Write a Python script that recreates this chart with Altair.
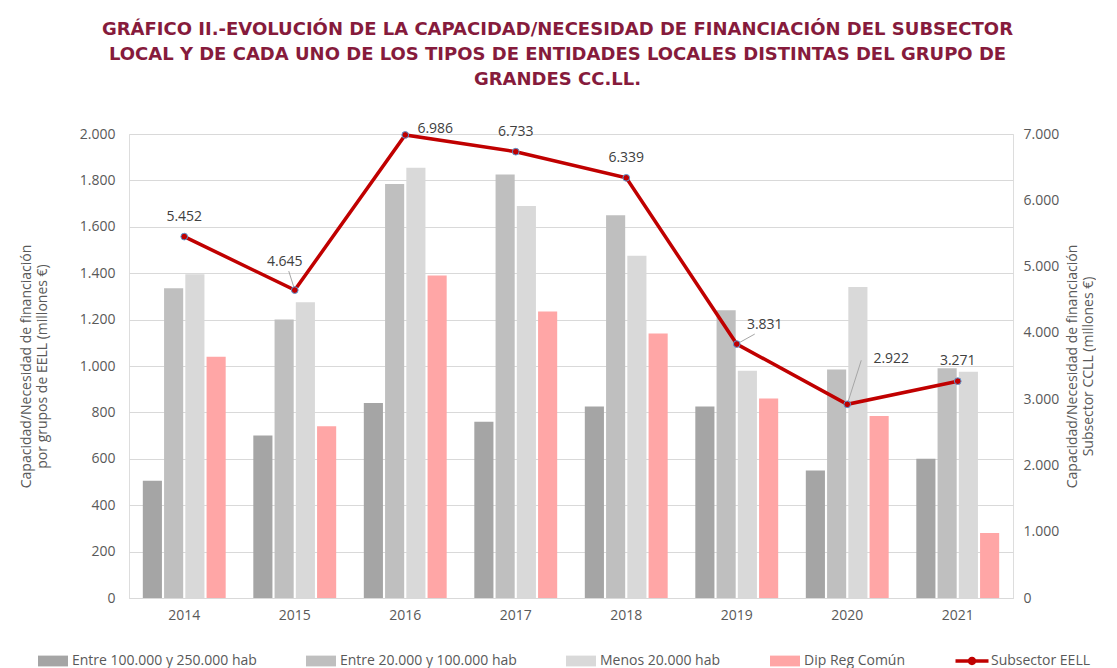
import altair as alt
import pandas as pd

years = ["2014", "2015", "2016", "2017", "2018", "2019", "2020", "2021"]
bar_series = ["Entre 100.000 y 250.000 hab", "Entre 20.000 y 100.000 hab",
              "Menos 20.000 hab", "Dip Reg Común"]
v_100_250 = [505, 700, 840, 760, 825, 825, 550, 600]
v_20_100 = [1335, 1200, 1785, 1825, 1650, 1240, 985, 990]
v_menos20 = [1395, 1275, 1855, 1690, 1475, 980, 1340, 975]
v_dip = [1040, 740, 1390, 1235, 1140, 860, 785, 280]
line_name = "Subsector EELL"
v_subsector = [5452, 4645, 6986, 6733, 6339, 3831, 2922, 3271]

bar_colors = ["#A5A5A5", "#BFBFBF", "#D9D9D9", "#FFA6A6"]
line_color = "#C00000"

rows = []
for s, vals in zip(bar_series, [v_100_250, v_20_100, v_menos20, v_dip]):
    for y, v in zip(years, vals):
        rows.append({"year": y, "serie": s, "value": v})
bars_df = pd.DataFrame(rows)
line_df = pd.DataFrame({"year": years, "serie": line_name, "value": v_subsector})

FONT = "Open Sans"
GRAY = "#595959"
all_series = bar_series + [line_name]
rect_path = "M-1,-0.36H1V0.36H-1Z"
line_path = "M-1.1,-0.12H1.1V0.12H-1.1Z M0.28,0A0.28,0.28 0 1,1 -0.28,0A0.28,0.28 0 1,1 0.28,0Z"

legend = alt.Legend(
    title=None, orient="none", direction="horizontal", legendX=-91, legendY=512,
    labelFont=FONT, labelFontSize=14, labelColor=GRAY, labelLimit=400,
    symbolType=rect_path, symbolSize=900, symbolStrokeWidth=0, symbolOpacity=1,
    columnPadding=49,
)
color = alt.Color("serie:N",
                  scale=alt.Scale(domain=all_series, range=bar_colors + [line_color]),
                  legend=legend)
shape = alt.Shape("serie:N",
                  scale=alt.Scale(domain=all_series, range=[rect_path] * 4 + [line_path]),
                  legend=legend)

xenc = alt.X("year:N", scale=alt.Scale(paddingInner=0.25, paddingOuter=0.125),
             axis=alt.Axis(title=None, labelAngle=0, labelFont=FONT, labelFontSize=14,
                           labelColor=GRAY, ticks=False, domainColor="#D9D9D9",
                           labelPadding=10))

bars = alt.Chart(bars_df).mark_bar().encode(
    x=xenc,
    xOffset=alt.XOffset("serie:N", sort=bar_series, scale=alt.Scale(paddingInner=0.1)),
    y=alt.Y("value:Q", scale=alt.Scale(domain=[0, 2000], nice=False),
            axis=alt.Axis(values=list(range(0, 2001, 200)), grid=True, gridColor="#D9D9D9",
                          domain=False, ticks=False, labelFont=FONT, labelFontSize=14,
                          labelColor=GRAY, labelPadding=14,
                          labelExpr="replace(format(datum.value, ','), ',', '.')",
                          title=["Capacidad/Necesidad de financiación",
                                 "por grupos de EELL (millones €)"],
                          titleFont=FONT, titleFontSize=14, titleFontWeight="normal",
                          titleColor=GRAY, titlePadding=30)),
    color=color,
)

yscale = alt.Scale(domain=[0, 7000], nice=False)
yaxis_r = alt.Axis(orient="right", values=list(range(0, 7001, 1000)), grid=False,
                   domain=False, ticks=False, labelFont=FONT, labelFontSize=14,
                   labelColor=GRAY, labelPadding=10,
                   labelExpr="replace(format(datum.value, ','), ',', '.')",
                   title=["Capacidad/Necesidad de financiación",
                          "Subsector CCLL (millones €)"],
                   titleFont=FONT, titleFontSize=14, titleFontWeight="normal",
                   titleColor=GRAY, titleAngle=-90, titlePadding=5)
yn = alt.Y("value:Q", axis=yaxis_r, scale=yscale)

lbase = alt.Chart(line_df).transform_calculate(
    lab="replace(format(datum.value, ','), ',', '.')")

line = lbase.mark_line(strokeWidth=3.5).encode(x=xenc, y=yn, color=color)
legend_layer = lbase.transform_filter("false").mark_point(filled=True, opacity=1).encode(
    x=xenc, y=yn, color=color, shape=shape)
pts = lbase.mark_point(filled=True, fill=line_color, stroke="#5B9BD5", strokeWidth=1,
                       size=45, opacity=1).encode(x=xenc, y=yn)


def lab(years_sel, dx, dy):
    return lbase.transform_filter(
        alt.FieldOneOfPredicate(field="year", oneOf=years_sel)
    ).mark_text(dx=dx, dy=dy, font=FONT, fontSize=14, color="#404040").encode(
        x=xenc, y=yn, text="lab:N")


def leader(years_sel, x2o, y2o):
    return lbase.transform_filter(
        alt.FieldOneOfPredicate(field="year", oneOf=years_sel)
    ).mark_rule(color="#A6A6A6", strokeWidth=1, x2Offset=x2o, y2Offset=y2o).encode(
        x=xenc, x2="year:N", y=yn, y2="value:Q")


labels = (lab(["2014", "2017", "2018", "2021"], 0, -20)
          + lab(["2016"], 30, -6)
          + lab(["2015"], -10, -28)
          + lab(["2019"], 28, -19)
          + lab(["2020"], 44, -45))
leaders = leader(["2015"], -6, -19) + leader(["2019"], 18, -10) + leader(["2020"], 14, -44)

line_layer = alt.layer(leaders, line, legend_layer, pts, labels)

chart = alt.layer(bars, line_layer).resolve_scale(y="independent").properties(
    width=884, height=464,
    padding={"left": 11, "top": 12, "right": 0, "bottom": 2},
    title=alt.TitleParams(
        ["GRÁFICO II.-EVOLUCIÓN DE LA CAPACIDAD/NECESIDAD DE FINANCIACIÓN DEL SUBSECTOR",
         "LOCAL Y DE CADA UNO DE LOS TIPOS DE ENTIDADES LOCALES DISTINTAS DEL GRUPO DE",
         "GRANDES CC.LL."],
        font="DejaVu Sans", fontSize=18, fontWeight="bold", color="#861B3C", anchor="middle",
        frame="bounds", lineHeight=25, offset=33),
).configure_view(stroke=None).configure(background="white")

chart.save("out.html", embed_options={"renderer": "svg", "actions": False})
